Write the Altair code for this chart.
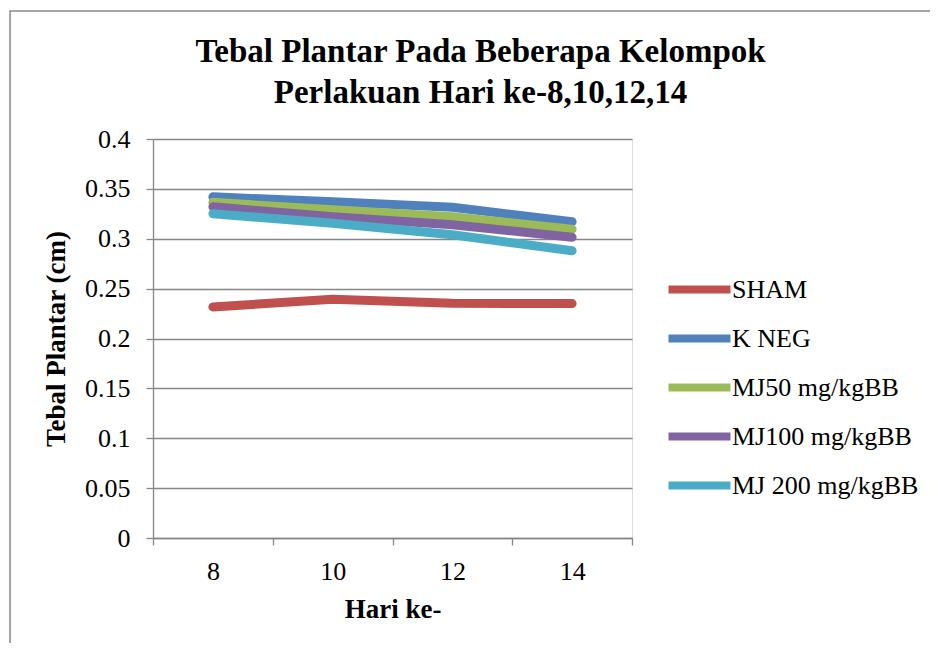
import altair as alt
import pandas as pd

days = ["8", "10", "12", "14"]
series_names = ["SHAM", "K NEG", "MJ50 mg/kgBB", "MJ100 mg/kgBB", "MJ 200 mg/kgBB"]
sham = [0.2316, 0.2393, 0.2353, 0.2350]
kneg = [0.3420, 0.3370, 0.3315, 0.3170]
mj50 = [0.3365, 0.3290, 0.3220, 0.3095]
mj100 = [0.3320, 0.3220, 0.3140, 0.3015]
mj200 = [0.3250, 0.3155, 0.3040, 0.2880]
colors = ["#C0504D", "#4F81BD", "#9BBB59", "#8064A2", "#4BACC6"]
y_ticks = [0, 0.05, 0.1, 0.15, 0.2, 0.25, 0.3, 0.35, 0.4]

rows = []
for name, vals in zip(series_names, [sham, kneg, mj50, mj100, mj200]):
    for i, (d, v) in enumerate(zip(days, vals)):
        rows.append({"Hari": d, "Tebal": v, "Kelompok": name, "order": i})
df = pd.DataFrame(rows)

FONT = "Liberation Serif"
GRID = "#868686"

lines = alt.Chart(df).mark_line(strokeWidth=9, strokeCap="round", strokeJoin="round").encode(
    x=alt.X("Hari:O", sort=days, bandPosition=0.5,
            scale=alt.Scale(type="band", paddingInner=0, paddingOuter=0),
            axis=alt.Axis(title="Hari ke-", labelAngle=0, tickBand="extent", grid=False,
                          domainColor=GRID, tickColor=GRID, domainWidth=1.3, tickWidth=1.3,
                          tickSize=7, labelPadding=13, labelFontSize=26, labelFont=FONT,
                          labelColor="black", titleFont=FONT, titleFontSize=27,
                          titleFontWeight="bold", titleColor="black", titlePadding=12)),
    y=alt.Y("Tebal:Q", scale=alt.Scale(domain=[0, 0.4], nice=False),
            axis=alt.Axis(title="Tebal Plantar (cm)", values=y_ticks, format="~g",
                          grid=True, gridColor=GRID, gridWidth=1.3,
                          domainColor=GRID, tickColor=GRID, domainWidth=1.3, tickWidth=1.3,
                          tickSize=7, labelPadding=16, labelFontSize=26, labelFont=FONT,
                          labelColor="black", titleFont=FONT, titleFontSize=27,
                          titleFontWeight="bold", titleColor="black", titlePadding=14)),
    color=alt.Color("Kelompok:N", sort=series_names,
                    scale=alt.Scale(domain=series_names, range=colors),
                    legend=alt.Legend(title=None, orient="none", legendX=527, legendY=131,
                                      symbolType="M-2,0H2", symbolSize=960,
                                      symbolStrokeWidth=8, labelFont=FONT, labelFontSize=26,
                                      labelColor="black", labelOffset=13, rowPadding=13,
                                      labelLimit=400, padding=0)),
    order=alt.Order("order:Q"),
)

border = alt.Chart(pd.DataFrame({"b": [0]})).mark_rect(
    fill=None, stroke=GRID, strokeWidth=1.5
).encode(
    x=alt.value(-143), y=alt.value(-128), x2=alt.value(900), y2=alt.value(700)
)

chart = alt.layer(border, lines).properties(
    width=479, height=399,
    title=alt.TitleParams(
        text=["Tebal Plantar Pada Beberapa Kelompok", "Perlakuan Hari ke-8,10,12,14"],
        font=FONT, fontSize=33, fontWeight="bold", color="black",
        anchor="middle", dx=88, dy=100, baseline="top", lineHeight=41, offset=0),
    autosize=alt.AutoSizeParams(type="none"),
    padding={"left": 145, "top": 131, "right": 298, "bottom": 105},
).configure_view(stroke=None).configure(background="white")

chart.save("out.html", embed_options={"renderer": "svg", "actions": False})
